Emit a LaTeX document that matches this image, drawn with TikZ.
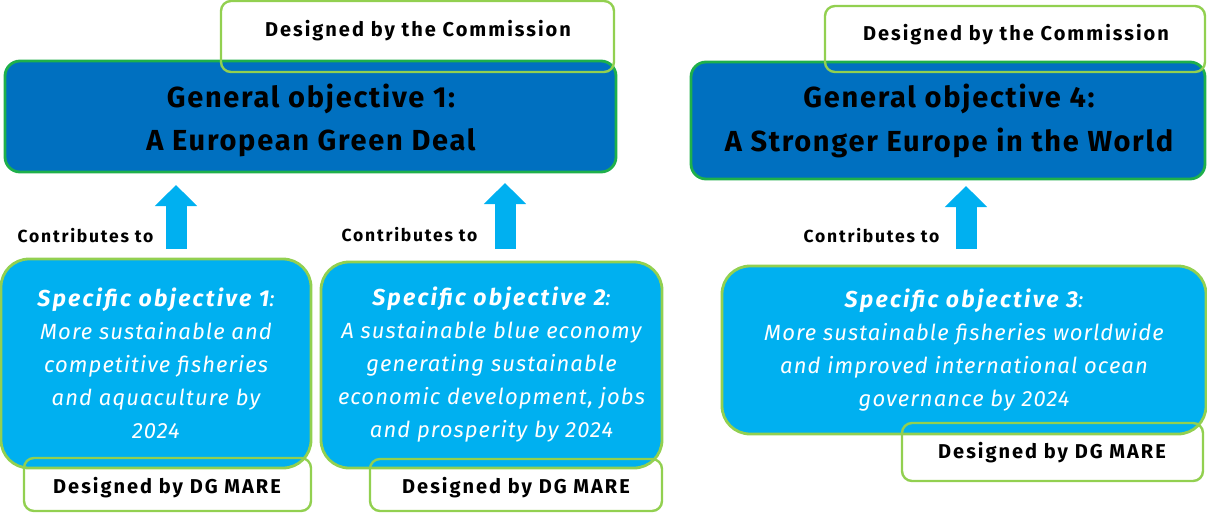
\documentclass[tikz,border=0pt]{standalone}
\usepackage{fontspec}
\setmainfont{Fira Sans}
\newfontfamily\wideSans[LetterSpace=10]{Fira Sans}
\newfontfamily\midSans[LetterSpace=5]{Fira Sans}
\newfontfamily\headSans[LetterSpace=6]{Fira Sans}
\usetikzlibrary{arrows.meta}
\definecolor{goFill}{HTML}{0070C0}
\definecolor{goEdge}{HTML}{1FB04B}
\definecolor{soFill}{HTML}{00B0F0}
\definecolor{limeEdge}{HTML}{92D050}
\newcommand\sohead[1]{{\wideSans\fontsize{23}{33}\selectfont\bfseries #1}}
\begin{document}
\begin{tikzpicture}[x=1pt,y=-1pt,
  genbox/.style={draw=goEdge, line width=2.8pt, fill=goFill, rounded corners=15pt},
  gentext/.style={align=center, text=black, inner sep=0pt,
    font={\headSans\fontsize{29}{43.5}\selectfont\bfseries}},
  specbox/.style={draw=limeEdge, line width=2.8pt, fill=soFill, rounded corners=28pt,
    align=center, text=white, font={\midSans\fontsize{22}{33}\selectfont\itshape}},
  tagbox/.style={draw=limeEdge, line width=2.4pt, rounded corners=10pt},
  tagtext/.style={font={\wideSans\fontsize{20}{22}\selectfont\bfseries}, text=black, inner sep=0pt},
  contrib/.style={font={\wideSans\fontsize{17.5}{20}\selectfont\bfseries}, text=black, inner sep=0pt},
  bigarrow/.style={draw=soFill, line width=21pt, line cap=butt,
    -{Triangle[length=21pt,width=41pt,fill=soFill]}},
]
\useasboundingbox (0,0) rectangle (1207,512);

% general objectives
\node[genbox, minimum width=611pt, minimum height=111pt] (g1) at (310.5,116.5) {};
\node[gentext] (g1t) at (311,120.5) {General objective 1:\\A European Green Deal};
\node[genbox, minimum width=514pt, minimum height=117pt] (g4) at (948,120.5) {};
\node[gentext] (g4t) at (949,121) {General objective 4:\\A Stronger Europe in the World};

% specific objectives
\node[specbox, minimum width=310pt, minimum height=209pt] (s1) at (156,363.5)
  {\sohead{Specific objective 1}:\\More sustainable and\\competitive fisheries\\and aquaculture by\\2024};
\node[specbox, minimum width=341pt, minimum height=206pt] (s2) at (491.5,365)
  {\sohead{Specific objective 2}:\\A sustainable blue economy\\generating sustainable\\economic development, jobs\\and prosperity by 2024};
\node[specbox, minimum width=484pt, minimum height=168pt] (s3) at (964,350)
  {\sohead{Specific objective 3}:\\More sustainable fisheries worldwide\\and improved international ocean\\governance by 2024};

% "designed by" tags
\node[tagbox, minimum width=393pt, minimum height=71pt] (c1) at (417.5,36.5) {};
\node[tagtext] (c1t) at (418,30.5) {Designed by the Commission};
\node[tagbox, minimum width=380pt, minimum height=66pt] (c4) at (1015,39) {};
\node[tagtext] (c4t) at (1016,34.5) {Designed by the Commission};

\node[tagbox, minimum width=287pt, minimum height=53pt] (d1) at (167.5,484.5) {};
\node[tagtext] (d1t) at (167,487.5) {Designed by DG MARE};
\node[tagbox, minimum width=292pt, minimum height=52pt] (d2) at (516,485) {};
\node[tagtext] (d2t) at (516,487.5) {Designed by DG MARE};
\node[tagbox, minimum width=301pt, minimum height=58pt] (d3) at (1052.5,452) {};
\node[tagtext] (d3t) at (1052,452.5) {Designed by DG MARE};

% contribution arrows
\coordinate (a1s) at (176,249); \coordinate (a1e) at (176,185);
\coordinate (a2s) at (505,249); \coordinate (a2e) at (505,183);
\coordinate (a3s) at (966,249); \coordinate (a3e) at (966,186);
\draw[bigarrow] (a1s) -- (a1e);
\draw[bigarrow] (a2s) -- (a2e);
\draw[bigarrow] (a3s) -- (a3e);

\node[contrib] (k1) at (85.5,235.5) {Contributes to};
\node[contrib] (k2) at (409.5,234.5) {Contributes to};
\node[contrib] (k3) at (871.5,235.5) {Contributes to};
\end{tikzpicture}
\end{document}
